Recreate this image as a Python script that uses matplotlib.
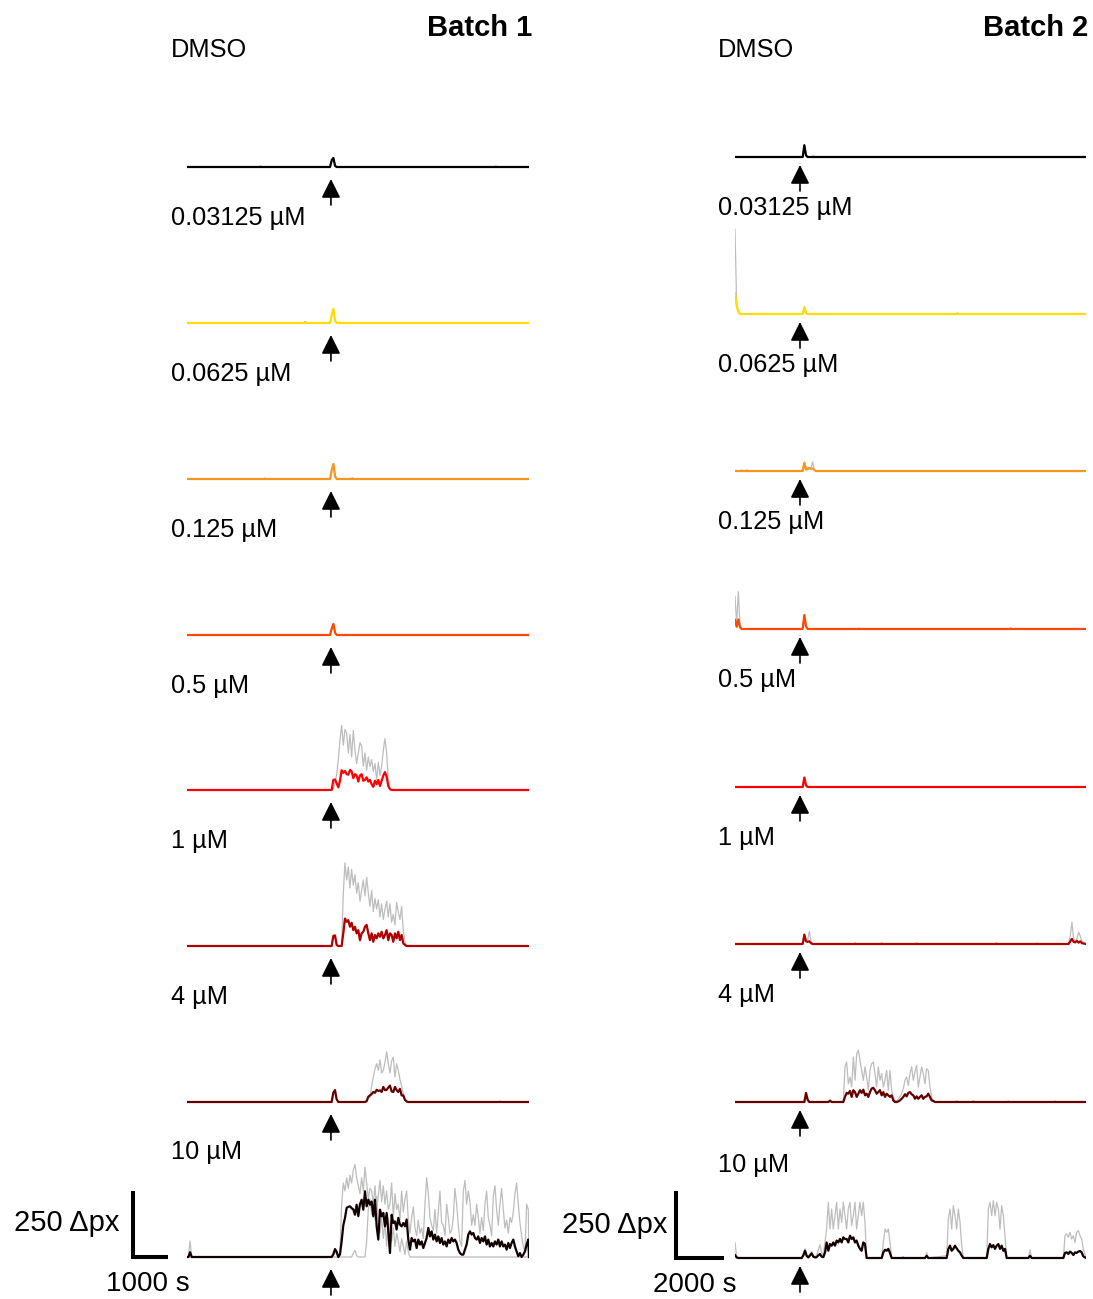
import numpy as np
import matplotlib.pyplot as plt
from matplotlib.transforms import blended_transform_factory

plt.rcParams['font.family'] = ['Liberation Sans', 'DejaVu Sans']

W, H = 1093, 1299

conditions = ["DMSO", "0.03125 µM", "0.0625 µM", "0.125 µM",
              "0.5 µM", "1 µM", "4 µM", "10 µM"]
trace_colors = ["#000000", "#FFDD00", "#F7961E", "#FF4A00",
                "#FF0000", "#B00000", "#650000", "#120000"]
gray_color = "#BDBDBD"

# Each trace is a list of bursts: (start time in s, values in Δpx at a fixed step).
# Between bursts the activity is zero.

# ---------------- Batch 1 ----------------
b1_duration = 9800      # s
b1_step = 47.75         # s
b1_stimulus = 4125      # s

b1_dmso_mean = [(4100, [0, 26, 34, 4, 0])]
b1_dmso_gray = [[(2060, [0, 5, 0]), (4100, [0, 28, 36, 6, 0]), (8800, [0, 5, 0])]]

b1_c1_mean = [(4100, [0, 30, 53, 8, 0])]
b1_c1_gray = [[(3340, [0, 6, 0]), (4100, [0, 32, 55, 10, 0])]]

b1_c2_mean = [(4100, [0, 35, 57, 10, 0])]
b1_c2_gray = [[(2180, [0, 4, 0]), (4100, [0, 36, 58, 12, 0]), (4690, [0, 5, 0])]]

b1_c3_mean = [(4100, [0, 25, 42, 8, 0])]
b1_c3_gray = [[(4100, [0, 26, 44, 9, 0])]]

b1_c4_mean = [(4145, [0, 38, 40, 25, 10, 35, 75, 65, 72, 60, 58, 76, 70, 45, 60, 55,
                      32, 55, 60, 35, 38, 48, 32, 38, 22, 12, 35, 22, 38, 15, 35, 55,
                      68, 50, 15, 3, 0])]
b1_c4_gray = [[(4145, [0, 5, 25, 60, 115, 190, 245, 170, 230, 215, 140, 210, 125, 225,
                       150, 100, 140, 180, 165, 90, 140, 75, 125, 88, 115, 70, 100, 38,
                       105, 55, 90, 150, 195, 140, 40, 5, 0])]]

b1_c5_mean = [(4145, [0, 38, 40, 4, 0]),
              (4431, [0, 48, 104, 92, 98, 73, 88, 60, 73, 48, 60, 22, 48, 54, 73, 80,
                      48, 22, 48, 16, 42, 29, 48, 35, 54, 29, 42, 60, 22, 48, 42, 16,
                      48, 29, 54, 22, 42, 10, 4, 0])]
b1_c5_gray = [[(4145, [0, 40, 42, 6, 0]),
               (4431, [0, 200, 315, 250, 300, 220, 290, 230, 270, 200, 240, 170, 210,
                       250, 190, 260, 200, 150, 210, 130, 180, 140, 175, 110, 160, 100,
                       140, 170, 110, 160, 90, 120, 80, 165, 130, 100, 150, 60, 15, 0])]]

b1_c6_mean = [(4145, [0, 35, 45, 10, 0]),
              (5100, [0, 3, 20, 25, 30, 38, 35, 46, 42, 44, 38, 57, 45, 46, 55, 62, 40,
                      38, 57, 45, 38, 50, 25, 25, 8, 2, 0])]
b1_c6_gray = [[(4145, [0, 36, 47, 12, 0]),
               (5100, [0, 5, 15, 20, 60, 95, 125, 145, 120, 160, 110, 120, 150, 190, 145,
                       110, 155, 170, 95, 145, 120, 85, 60, 30, 10, 2, 0]),
               (8930, [0, 4, 0])]]

b1_c7_mean = [(40, [0, 18, 0]),
              (4145, [0, 10, 30, 20, 0, 10, 60, 120, 148, 186, 190, 192, 185, 180, 160,
                      198, 155, 200, 217, 179, 249, 192, 217, 198, 210, 154, 217, 116, 66,
                      179, 154, 167, 116, 167, 97, 15, 160, 129, 135, 104, 148, 123, 116,
                      129, 116, 142, 66, 28, 72, 59, 66, 34, 66, 47, 59, 34, 53, 72, 110,
                      78, 97, 66, 85, 59, 78, 53, 72, 47, 59, 40, 66, 53, 72, 59, 66, 53,
                      28, 15, 9, 9, 28, 47, 85, 97, 85, 91, 72, 66, 78, 53, 72, 59, 78, 47,
                      66, 40, 53, 40, 59, 47, 66, 40, 59, 40, 47, 28, 53, 34, 53, 66, 40,
                      21, 3, 15, 0, 9, 21, 47, 66])]
b1_c7_gray = [[(40, [0, 60, 0]),
               (4145, [0, 5, 20, 10, 0, 20, 200, 280, 250, 300, 260, 310, 280, 330, 350,
                       300, 270, 240, 300, 250, 340, 280, 220, 260, 250, 200, 270, 180, 230,
                       290, 210, 270, 200, 250, 180, 200, 280, 150, 240, 180, 200, 140, 250,
                       170, 220, 250, 140, 90, 150, 190, 110, 80, 140, 90, 110, 70, 200, 300,
                       240, 150, 120, 100, 180, 90, 170, 250, 130, 120, 80, 200, 150, 90,
                       100, 150, 260, 200, 120, 60, 40, 250, 290, 200, 250, 210, 120, 160,
                       120, 200, 150, 90, 150, 100, 200, 250, 150, 120, 80, 230, 270, 180,
                       120, 200, 260, 180, 110, 140, 90, 150, 130, 170, 240, 280, 200, 130,
                       80, 40, 20, 200, 180])],
              [(4145, [0, 0, 0, 0, 0, 0, 0, 0, 0, 0, 0, 0, 0, 15, 25, 5, 0, 0, 0, 0, 0,
                       60, 180, 220, 160, 200, 140, 230, 120, 90, 150, 70, 130, 40, 150,
                       100, 60, 110, 40, 90, 60, 20, 70, 40, 10, 60, 20, 0])]]

# ---------------- Batch 2 ----------------
b2_duration = 14625     # s
b2_step = 69.4          # s
b2_stimulus = 2708      # s

b2_dmso_mean = [(2820, [0, 44, 6, 0])]
b2_dmso_gray = [[(2820, [0, 46, 8, 0]), (3195, [0, 5, 0]), (14450, [0, 4, 0])]]

b2_c1_mean = [(0, [80, 30, 8, 0]), (2820, [0, 25, 4, 0])]
b2_c1_gray = [[(0, [316, 34, 15, 0]), (2820, [0, 27, 6, 0]), (9200, [0, 4, 0])]]

b2_c2_mean = [(2820, [0, 31, 5, 8, 10, 8, 10, 3, 0])]
b2_c2_gray = [[(208, [0, 4, 0]), (416, [0, 4, 0]),
               (2820, [0, 32, 10, 15, 12, 10, 34, 5, 0])]]

b2_c3_mean = [(0, [34, 8, 36, 6, 0]), (2820, [0, 52, 10, 0])]
b2_c3_gray = [[(0, [121, 20, 139, 15, 0]), (2820, [0, 54, 12, 0]),
               (5100, [0, 4, 0]), (11420, [0, 5, 0])]]

b2_c4_mean = [(2820, [0, 35, 6, 0])]
b2_c4_gray = [[(2820, [0, 37, 8, 0])]]

b2_c5_mean = [(2820, [0, 35, 10, 8, 10, 3, 0]),
              (13900, [0, 10, 19, 8, 6, 12, 5, 10, 3])]
b2_c5_gray = [[(2820, [0, 36, 20, 15, 47, 10, 0]), (4930, [0, 5, 0]), (6040, [0, 5, 0]),
               (7500, [0, 5, 0]), (10830, [0, 5, 0]), (12500, [0, 4, 0]),
               (13900, [0, 30, 81, 20, 10, 20, 44, 30, 10])]]

b2_c6_mean = [(2890, [0, 34, 8, 0]), (3890, [0, 5, 0]),
              (4514, [0, 19, 34, 31, 41, 19, 44, 37, 19, 31, 44, 34, 46, 25, 31, 19, 37,
                      50, 53, 44, 31, 37, 44, 25, 37, 19, 31, 25, 19, 25, 6, 0, 0, 2, 6,
                      12, 19, 29, 21, 34, 37, 29, 25, 12, 21, 12, 19, 25, 12, 19, 21, 31,
                      19, 6, 4, 0])]
b2_c6_gray = [[(2890, [0, 36, 10, 0]), (3890, [0, 6, 0]),
               (4514, [0, 131, 149, 68, 93, 56, 168, 81, 180, 193, 156, 118, 81, 131, 93,
                       44, 118, 143, 149, 106, 56, 131, 81, 106, 56, 81, 118, 44, 118, 44,
                       19, 6, 4, 12, 19, 31, 50, 81, 93, 62, 106, 131, 81, 112, 137, 56,
                       93, 131, 106, 68, 124, 118, 56, 19, 6, 0]),
               (9170, [0, 5, 0]), (9860, [0, 5, 0]), (11320, [0, 4, 0]), (13270, [0, 4, 0])]]

b2_c7_mean = [(0, [11, 2, 0]),
              (2778, [0, 10, 27, 8, 2, 10, 17, 5, 2, 3, 10, 15, 5, 3, 20,
                      58, 27, 52, 46, 58, 46, 65, 58, 71, 58, 77, 71, 71, 58, 83, 71, 77,
                      58, 65, 46, 34, 27, 58, 52, 0]),
              (6111, [0, 21, 31, 27, 34, 19, 0]),
              (7917, [0, 8, 0]),
              (8820, [0, 34, 46, 27, 34, 46, 36, 27, 21, 9, 0]),
              (10487, [0, 34, 52, 40, 48, 34, 46, 52, 34, 46, 27, 34, 0]),
              (12222, [0, 8, 0]),
              (13681, [0, 19, 21, 15, 24, 19, 11, 21, 19, 24, 26, 21, 6])]
b2_c7_gray = [[(0, [58, 5, 0]),
               (2778, [0, 15, 35, 10, 5, 15, 25, 8, 5, 10, 30, 50, 20, 10, 60,
                       108, 208, 108, 183, 108, 158, 208, 108, 183, 133, 208, 158, 108,
                       183, 208, 121, 158, 208, 108, 158, 208, 158, 208, 133, 0]),
               (6111, [0, 58, 108, 96, 108, 58, 0]),
               (6930, [0, 6, 0]),
               (7917, [0, 20, 0]),
               (8820, [9, 145, 183, 108, 195, 158, 108, 183, 133, 46, 0]),
               (10487, [0, 183, 208, 158, 214, 158, 208, 183, 108, 195, 158, 83, 0]),
               (12222, [0, 30, 0]),
               (13681, [0, 83, 90, 77, 96, 71, 83, 58, 96, 102, 83, 71, 34])]]

batch1_mean = [b1_dmso_mean, b1_c1_mean, b1_c2_mean, b1_c3_mean,
               b1_c4_mean, b1_c5_mean, b1_c6_mean, b1_c7_mean]
batch1_gray = [b1_dmso_gray, b1_c1_gray, b1_c2_gray, b1_c3_gray,
               b1_c4_gray, b1_c5_gray, b1_c6_gray, b1_c7_gray]
batch2_mean = [b2_dmso_mean, b2_c1_mean, b2_c2_mean, b2_c3_mean,
               b2_c4_mean, b2_c5_mean, b2_c6_mean, b2_c7_mean]
batch2_gray = [b2_dmso_gray, b2_c1_gray, b2_c2_gray, b2_c3_gray,
               b2_c4_gray, b2_c5_gray, b2_c6_gray, b2_c7_gray]


def assemble(bursts, step, duration):
    t, v = [], []
    for t0, vals in bursts:
        t.extend(t0 + step * np.arange(len(vals)))
        v.extend(vals)
    t = np.asarray(t, float)
    v = np.asarray(v, float)
    order = np.argsort(t, kind="stable")
    t, v = t[order], v[order]
    if t[0] > 0:
        t = np.r_[0.0, t]
        v = np.r_[0.0, v]
    if t[-1] < duration:
        t = np.r_[t, duration]
        v = np.r_[v, 0.0]
    return t, v


fig = plt.figure(figsize=(W / 100, H / 100), dpi=100)

batches = [
    dict(title="Batch 1", title_x=532, x0=187, x1=529, duration=b1_duration,
         step=b1_step, stim=b1_stimulus, px_per_unit=66 / 250,
         baselines=[167, 323, 479, 635, 790, 946, 1102, 1257],
         label_x=171, label_y=[57, 225, 381, 537, 693, 848, 1004, 1159],
         arrow=(12, 38), means=batch1_mean, grays=batch1_gray,
         bar_len=1000, bar_x=133, bar_text="1000 s", bar_text_x=148,
         bar_text_y=1291, unit_text_x=120, unit_text_y=1231),
    dict(title="Batch 2", title_x=1088, x0=735, x1=1086, duration=b2_duration,
         step=b2_step, stim=b2_stimulus, px_per_unit=67 / 250,
         baselines=[157, 314, 471, 629, 787, 944, 1102, 1258],
         label_x=718, label_y=[57, 215, 372, 529, 687, 845, 1002, 1172],
         arrow=(8, 34), means=batch2_mean, grays=batch2_gray,
         bar_len=2000, bar_x=676, bar_text="2000 s", bar_text_x=695,
         bar_text_y=1292, unit_text_x=668, unit_text_y=1233),
]

y_lo, y_hi = -10, 400

for b in batches:
    fig.text(b["title_x"] / W, 1 - 36 / H, b["title"], ha="right", va="baseline",
             fontsize=21, fontweight="bold")
    for i, cond in enumerate(conditions):
        base = b["baselines"][i]
        ppu = b["px_per_unit"]
        bottom_px = base + (-y_lo) * ppu
        height_px = (y_hi - y_lo) * ppu
        ax = fig.add_axes([b["x0"] / W, 1 - bottom_px / H,
                           (b["x1"] - b["x0"]) / W, height_px / H])
        ax.set_xlim(0, b["duration"])
        ax.set_ylim(y_lo, y_hi)
        ax.axis("off")

        for g in b["grays"][i]:
            t, v = assemble(g, b["step"], b["duration"])
            ax.plot(t, v, color=gray_color, lw=0.9, zorder=1)
        t, v = assemble(b["means"][i], b["step"], b["duration"])
        ax.plot(t, v, color=trace_colors[i], lw=1.6, zorder=2,
                solid_joinstyle="round")

        # stimulus arrow
        trans = blended_transform_factory(ax.transData, fig.transFigure)
        tip, end = b["arrow"]
        ax.annotate("", xy=(b["stim"], 1 - (base + tip) / H),
                    xytext=(b["stim"], 1 - (base + end) / H),
                    xycoords=trans, textcoords=trans,
                    arrowprops=dict(arrowstyle="-|>,head_length=0.4,head_width=0.2",
                                    mutation_scale=29, lw=1.2, color="black",
                                    shrinkA=0, shrinkB=0))

        fig.text(b["label_x"] / W, 1 - b["label_y"][i] / H, cond,
                 ha="left", va="baseline", fontsize=18.3)

        if i == len(conditions) - 1:
            bx = (b["bar_x"] - b["x0"]) * b["duration"] / (b["x1"] - b["x0"])
            ax.plot([bx, bx, bx + b["bar_len"]], [250, 0, 0], color="black",
                    lw=2.9, clip_on=False, solid_joinstyle="miter",
                    solid_capstyle="butt")
            fig.text(b["unit_text_x"] / W, 1 - b["unit_text_y"] / H, "250 Δpx",
                     ha="right", va="baseline", fontsize=21)
            fig.text(b["bar_text_x"] / W, 1 - b["bar_text_y"] / H, b["bar_text"],
                     ha="center", va="baseline", fontsize=20)

fig.savefig("out.png", dpi=100)
